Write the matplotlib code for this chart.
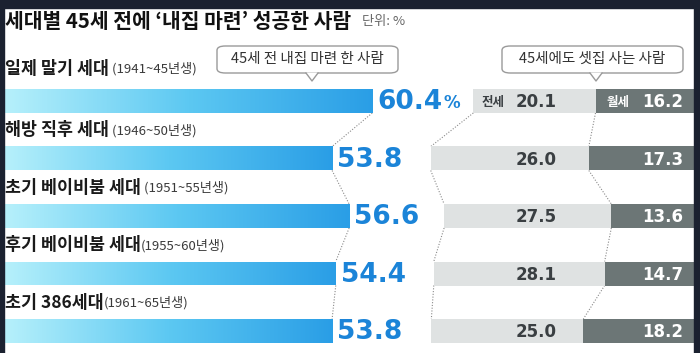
import matplotlib
matplotlib.use("Agg")
import matplotlib.pyplot as plt
from matplotlib.patches import FancyBboxPatch, Rectangle, Polygon
from matplotlib.colors import LinearSegmentedColormap
import numpy as np

plt.rcParams['font.family'] = ['Noto Sans CJK KR', 'DejaVu Sans']

generations = ["일제 말기 세대", "해방 직후 세대", "초기 베이비붐 세대",
               "후기 베이비붐 세대", "초기 386세대"]
birth_years = [" (1941~45년생)", " (1946~50년생)", " (1951~55년생)",
               "(1955~60년생)", "(1961~65년생)"]
owned = [60.4, 53.8, 56.6, 54.4, 53.8]      # 45세 전 내집 마련
jeonse = [20.1, 26.0, 27.5, 28.1, 25.0]     # 전세
wolse = [16.2, 17.3, 13.6, 14.7, 18.2]      # 월세

W, H = 700, 353
K = 6.08          # pixels per percent point
X0 = 5            # pixel where bars start
ROW0, ROWSTEP = 101, 57.5
RIGHT = (694 - X0) / K
BAR_H = 24 / ROWSTEP

BLUE_TXT = "#1b84d8"
LIGHT = "#dfe2e2"
DARK = "#6c7676"
DOT = "#8a8a8a"

fig = plt.figure(figsize=(W / 100, H / 100), dpi=100)
ax = fig.add_axes([0, 0, 1, 1])
ax.set_axis_off()


def fpx(x, y):
    """pixel (from top-left) -> figure fraction"""
    return x / W, 1 - y / H


rows = np.arange(len(owned))
grad_cmap = LinearSegmentedColormap.from_list("g", ["#b6f0fb", "#5cc8f2", "#2a9ee6"])
grad = np.linspace(0, 1, 256).reshape(1, -1)

bars = ax.barh(rows, owned, left=0, height=BAR_H, color="none", edgecolor="none")
for b, v, r in zip(bars, owned, rows):
    im = ax.imshow(grad, cmap=grad_cmap, aspect="auto",
                   extent=[0, v, r + BAR_H / 2, r - BAR_H / 2], zorder=2)
    im.set_clip_path(b)

lefts_j = [RIGHT - j - w for j, w in zip(jeonse, wolse)]
lefts_w = [RIGHT - w for w in wolse]
ax.barh(rows, jeonse, left=lefts_j, height=BAR_H, color=LIGHT, zorder=2)
ax.barh(rows, wolse, left=lefts_w, height=BAR_H, color=DARK, zorder=2)

# dotted connectors between rows
for xs in (owned, lefts_j, lefts_w):
    for i in range(len(xs) - 1):
        ax.plot([xs[i], xs[i + 1]], [i + BAR_H / 2, i + 1 - BAR_H / 2],
                color=DOT, lw=0.8, ls=(0, (1, 1.5)), zorder=1)

ax.set_xlim(-X0 / K, (W - X0) / K)
ax.set_ylim((H - ROW0) / ROWSTEP, -ROW0 / ROWSTEP)

fig.canvas.draw()
renderer = fig.canvas.get_renderer()

for i in rows:
    # blue value
    t = ax.text(owned[i] + 0.8, i + 0.02, f"{owned[i]:.1f}", color=BLUE_TXT,
                fontsize=19, fontweight="bold", family="DejaVu Sans",
                ha="left", va="center", zorder=3)
    if i == 0:
        bb = t.get_window_extent(renderer)
        ax.annotate("%", xy=(bb.x1, bb.y0), xycoords="figure pixels",
                    xytext=(1, 2), textcoords="offset points",
                    color=BLUE_TXT, fontsize=12, fontweight="bold",
                    family="DejaVu Sans", ha="left", va="bottom")
    # jeonse / wolse values
    ax.text((557 - X0) / K, i + 0.02, f"{jeonse[i]:.1f}", color="#3a3f42",
            fontsize=12, fontweight="bold", family="DejaVu Sans",
            ha="right", va="center", zorder=3)
    ax.text((683 - X0) / K, i + 0.02, f"{wolse[i]:.1f}", color="white",
            fontsize=12, fontweight="bold", family="DejaVu Sans",
            ha="right", va="center", zorder=3)
    # generation label
    ly = i - (0.56 if i == 0 else 0.49)
    lt = ax.text(0, ly, generations[i], fontsize=12.5, fontweight="bold",
                 color="#1a1a1a", ha="left", va="center")
    bb = lt.get_window_extent(renderer)
    ax.annotate(birth_years[i], xy=(bb.x1, (bb.y0 + bb.y1) / 2),
                xycoords="figure pixels", fontsize=9.5, color="#3a3a3a",
                ha="left", va="center")

ax.text(lefts_j[0] + 1.3, 0.02, "전세", fontsize=9, fontweight="bold",
        color="#3a3f42", ha="left", va="center", zorder=3)
ax.text(lefts_w[0] + 1.8, 0.02, "월세", fontsize=9, fontweight="bold",
        color="white", ha="left", va="center", zorder=3)

# title
fig.text(*fpx(5, 21), "세대별 45세 전에 ‘내집 마련’ 성공한 사람", fontsize=14.7,
         fontweight="bold", color="#111111", ha="left", va="center")
fig.text(*fpx(362, 22), "단위: %", fontsize=9.5, color="#666666",
         ha="left", va="center")


# callout boxes
def callout(x0, x1, y0, y1, tip_x, text):
    x0f, y1f = fpx(x0, y1)
    x1f, y0f = fpx(x1, y0)
    box = FancyBboxPatch((x0f, y1f), x1f - x0f, y0f - y1f,
                         boxstyle="round,pad=0,rounding_size=0.012",
                         transform=fig.transFigure, facecolor="white",
                         edgecolor="#9a9a9a", lw=1.0, zorder=5)
    fig.patches.append(box)
    tri = [fpx(tip_x - 6, y1 - 0.5), fpx(tip_x + 6, y1 - 0.5), fpx(tip_x, y1 + 8)]
    fig.patches.append(Polygon(tri, closed=True, facecolor="white", edgecolor="none",
                               transform=fig.transFigure, zorder=6))
    xs = [tip_x - 6, tip_x, tip_x + 6]
    ys = [y1, y1 + 8, y1]
    fig.lines.append(plt.Line2D([x / W for x in xs], [1 - y / H for y in ys],
                                color="#9a9a9a", lw=1.0,
                                transform=fig.transFigure, zorder=7))
    fig.text(*fpx((x0 + x1) / 2, (y0 + y1) / 2 - 1), text, fontsize=10.5,
             color="#333333", ha="center", va="center", zorder=8)


callout(217, 398, 46, 73, 312, "45세 전 내집 마련 한 사람")
callout(502, 683, 46, 73, 596, "45세에도 셋집 사는 사람")

# dark frame
for (x, y, w, h) in [(0, 0, W, 8), (0, 0, 4, H), (694, 0, 6, H)]:
    fig.patches.append(Rectangle(fpx(x, y + h), w / W, h / H, color="#1b2130",
                                 transform=fig.transFigure, zorder=10))

fig.savefig("out.png", dpi=100)
